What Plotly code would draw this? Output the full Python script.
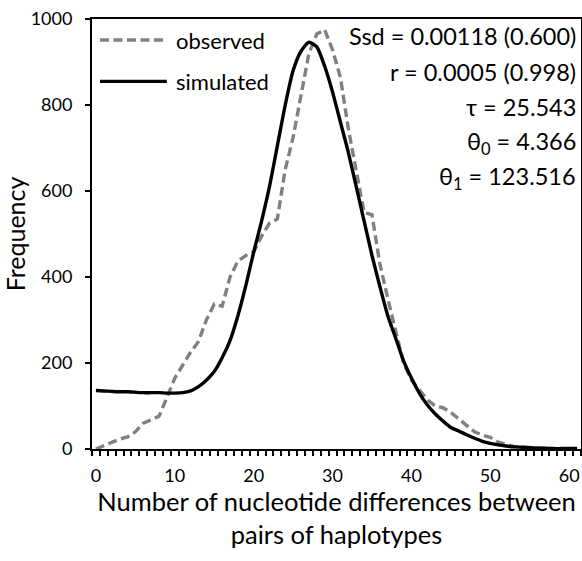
import plotly.graph_objects as go

# ---- data ----
differences = list(range(0, 62))
observed = [0, 8, 16, 23, 28, 40, 60, 67, 76, 120,
            165, 195, 225, 250, 300, 337, 332, 400, 437, 450,
            458, 495, 525, 535, 650, 725, 820, 920, 965, 975,
            928, 864, 745, 650, 550, 545, 430, 350, 275, 200,
            160, 138, 115, 100, 96, 85, 70, 55, 40, 32,
            27, 16, 10, 6, 4, 3, 2, 1, 1, 0, 0, 0]
simulated = [136, 135, 134, 133, 133, 132, 131, 131, 131, 130,
             130, 131, 135, 145, 160, 180, 212, 252, 310, 380,
             458, 530, 610, 705, 800, 880, 925, 946, 935, 890,
             830, 760, 690, 610, 530, 450, 378, 310, 258, 205,
             165, 130, 103, 82, 65, 50, 42, 33, 25, 18,
             13, 9.5, 7, 5, 4, 3, 2, 2, 1, 1, 1, 1]
x_ticks = [0, 10, 20, 30, 40, 50, 60]
y_ticks = [0, 200, 400, 600, 800, 1000]
series_names = ["observed", "simulated"]
stats_lines = ["Ssd = 0.00118 (0.600)", "r = 0.0005 (0.998)", "τ = 25.543",
               "θ<sub>0</sub> = 4.366", "θ<sub>1</sub> = 123.516"]

FONT = "Lato"
GRAY = "#808080"

fig = go.Figure()
fig.add_trace(go.Scatter(x=differences, y=observed, mode="lines", name=series_names[0],
                         line=dict(color=GRAY, width=3.4, dash="9px,4.5px"), showlegend=False))
fig.add_trace(go.Scatter(x=differences, y=simulated, mode="lines", name=series_names[1],
                         line=dict(color="black", width=3.4, shape="spline", smoothing=0.6),
                         showlegend=False))

# manual legend
legend_rows = [(0.951, GRAY, "9px,4.5px"), (0.855, "black", "solid")]
for (yy, col, dsh), nm in zip(legend_rows, series_names):
    fig.add_shape(type="line", xref="paper", yref="paper", x0=0.0164, x1=0.153, y0=yy, y1=yy,
                  line=dict(color=col, width=3.4, dash=dsh))
    fig.add_annotation(xref="paper", yref="paper", x=0.168, y=yy, text=nm, showarrow=False,
                       xanchor="left", yanchor="middle", font=dict(family=FONT, size=22, color="black"))

stat_y = [0.960, 0.877, 0.795, 0.712, 0.630]
for txt, yy in zip(stats_lines, stat_y):
    fig.add_annotation(xref="paper", yref="paper", x=0.993, y=yy, text=txt, showarrow=False,
                       xanchor="right", yanchor="middle", font=dict(family=FONT, size=23.5, color="black"))

fig.update_layout(
    width=582, height=561,
    margin=dict(l=92, r=1, t=19, b=112),
    paper_bgcolor="white", plot_bgcolor="white",
    font=dict(family=FONT, color="black"),
)
fig.update_xaxes(
    range=[-0.5, 61.5], tickmode="array", tickvals=x_ticks, automargin=False,
    ticks="outside", ticklen=9, tickcolor="rgba(0,0,0,0)",
    showgrid=False, zeroline=False, showline=True, linecolor="black", linewidth=2, mirror=True,
    tickfont=dict(family=FONT, size=18), ticklabeloverflow="allow",
    minor=dict(tick0=-0.5, dtick=1, ticks="outside", ticklen=5, tickwidth=1.5, tickcolor="black", showgrid=False),
    title=dict(text="Number of nucleotide differences between<br>pairs of haplotypes",
               font=dict(family=FONT, size=25.5), standoff=4),
)
fig.update_yaxes(
    range=[0, 1000], tickmode="array", tickvals=y_ticks, automargin=False,
    ticks="outside", ticklen=5, tickwidth=1.5,
    tickcolor="black", showgrid=False, zeroline=False, showline=True, linecolor="black", linewidth=2,
    mirror=True, tickfont=dict(family=FONT, size=18), ticklabelstandoff=9, ticklabeloverflow="allow",
    title=dict(text="Frequency", font=dict(family=FONT, size=25), standoff=20),
)

# remove the browser's default page margin so the 582x561 figure fills the window exactly
fig.write_html("out.html", config={"displayModeBar": False},
               post_script="document.body.style.margin='0';document.body.style.overflow='hidden';")
